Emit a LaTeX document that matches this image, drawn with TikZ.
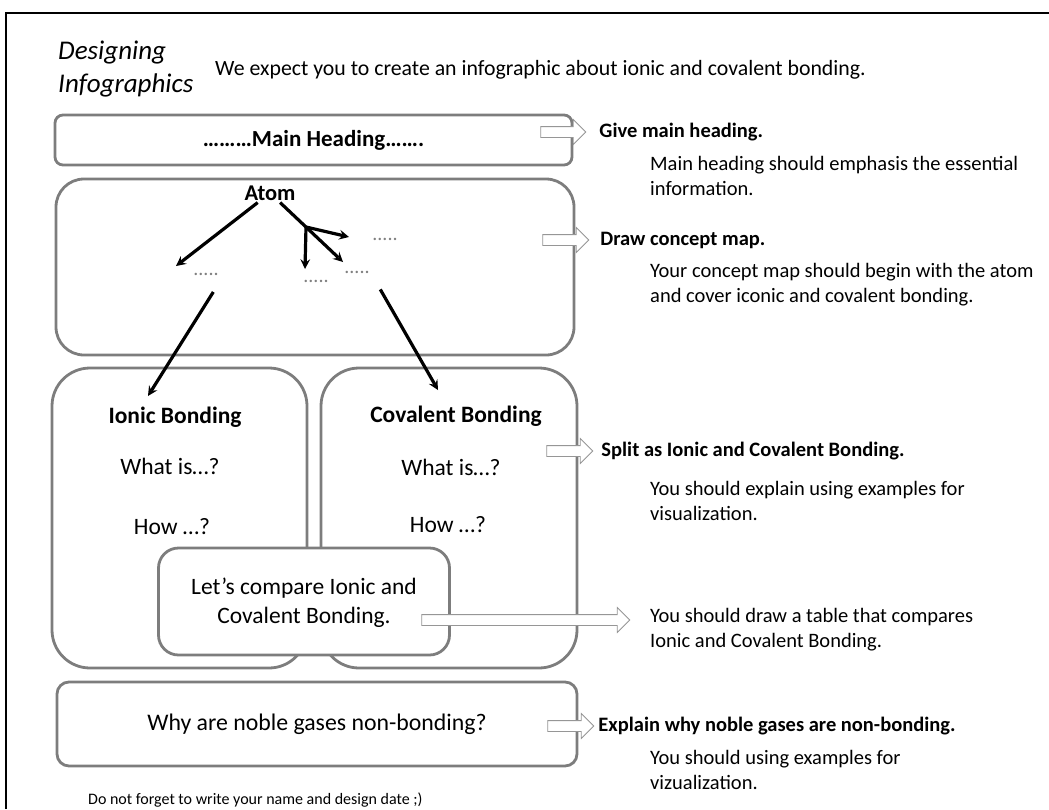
\documentclass[tikz,border=0pt]{standalone}
\usepackage{fontspec}
\setmainfont{Carlito}
\usepackage{xcolor}
\usetikzlibrary{shapes,arrows,positioning,fit,backgrounds}

\definecolor{panelgray}{RGB}{125,125,125}
\definecolor{hollowgray}{RGB}{150,150,150}

\begin{document}
\begin{tikzpicture}[
    x=1pt, y=-1pt,
    panel/.style={
        rectangle,
        draw=panelgray,
        line width=2.8pt,
        fill=white,
        rounded corners=#1,
        inner sep=0pt
    },
    body/.style={font=\fontsize{20.5}{25}\selectfont, inner sep=0pt},
    note/.style={body, anchor=west, align=left},
    hint/.style={font=\fontsize{20.5}{24}\selectfont\bfseries, inner sep=0pt, anchor=west},
    boxtext/.style={font=\fontsize{23.5}{29}\selectfont, inner sep=0pt, align=center},
    boxhead/.style={font=\fontsize{23.5}{28}\selectfont\bfseries, inner sep=0pt},
    pointer/.style={
        single arrow,
        draw=hollowgray,
        fill=white,
        line width=0.8pt,
        minimum height=#1,
        minimum width=22pt,
        single arrow head indent=0pt,
        inner xsep=0pt,
        inner ysep=5pt
    },
    dots/.style={text=gray, font=\fontsize{20}{20}\selectfont, inner sep=3pt},
    arrow/.style={->, >=stealth, line width=3.2pt}
]
\useasboundingbox (0,0) rectangle (1049,809);

% Frame
\draw[line width=2pt] (6,809) -- (6,13) -- (1049,13);

% Title
\node[font=\fontsize{27}{33}\selectfont\itshape, anchor=west, align=left, inner sep=0pt] (title) at (58,69) {Designing\\Infographics};
\node[anchor=west, inner sep=0pt, font=\fontsize{21.8}{26}\selectfont] (intro) at (215,70) {We expect you to create an infographic about ionic and covalent bonding.};

% Main heading
\node[panel=8pt, minimum width=517pt, minimum height=50pt, font=\fontsize{23}{28}\selectfont\bfseries] (heading) at (313.5,140) {………Main Heading…….};

% Concept map
\node[panel=28pt, minimum width=518pt, minimum height=176pt] (mapbox) at (315,267) {};
\node[font=\fontsize{22.5}{26}\selectfont\bfseries, inner sep=2pt] (atom) at (270,193) {Atom};
\node[dots] (dotsA) at (206,274) {.....};
\node[dots] (dotsB) at (385,239) {.....};
\node[dots] (dotsC) at (357,272) {.....};
\node[dots] (dotsD) at (316,281) {.....};
\coordinate (tipA) at (176,266);
\coordinate (tipC) at (343,262);
\coordinate (fork) at (306,227);
\coordinate (tipB) at (349,237);
\coordinate (tipD) at (305,269);
\draw[arrow] (atom) -- (tipA);
\draw[arrow] (atom) -- (tipC);
\draw[arrow] (fork) -- (tipB);
\draw[arrow] (fork) -- (tipD);

% Ionic and covalent
\node[panel=38pt, minimum width=255pt, minimum height=300pt] (ionicbox) at (179.5,518) {};
\node[panel=38pt, minimum width=256pt, minimum height=300pt] (covbox) at (449,518) {};
\node[boxhead] (ionic) at (175,417) {Ionic Bonding};
\node[boxtext] (ionicwhat) at (170,466) {What is…?};
\node[boxtext] (ionichow) at (172,527) {How …?};
\node[boxhead] (covalent) at (456,416) {Covalent Bonding};
\node[boxtext] (covwhat) at (451,467) {What is…?};
\node[boxtext] (covhow) at (448,525) {How …?};
\coordinate (ionictip) at (148,396);
\coordinate (covtip) at (438,390);
\draw[arrow, shorten <=16pt] (dotsA.south east) -- (ionictip);
\draw[arrow, shorten <=15pt] (dotsC.south east) -- (covtip);

% Compare
\node[panel=20pt, minimum width=291pt, minimum height=107pt] (comparebox) at (304,601.5) {};
\node[boxtext] (compare) at (304,603) {Let’s compare Ionic and\\Covalent Bonding.};

% Noble gases
\node[panel=12pt, minimum width=520pt, minimum height=84pt, font=\fontsize{23.8}{28}\selectfont] (noble) at (317,724) {Why are noble gases non-bonding?};
\node[anchor=west, inner sep=0pt, font=\fontsize{16}{18}\selectfont] (footer) at (88,800) {Do not forget to write your name and design date ;)};

% Pointers
\node[pointer=45pt] (arrheading) at (560.5,132) {};
\node[pointer=46pt] (arrmap) at (563,240) {};
\node[pointer=46pt] (arrsplit) at (567,451) {};
\node[pointer=208pt] (arrcompare) at (523,620) {};
\node[pointer=46pt] (arrnoble) at (568,726) {};

% Hints
\node[hint, right=13pt of arrheading] (give) {Give main heading.};
\node[hint, right=11pt of arrmap] (draw) {Draw concept map.};
\node[hint, right=8pt of arrsplit] (split) {Split as Ionic and Covalent Bonding.};
\node[hint, right=4pt of arrnoble] (explain) {Explain why noble gases are non-bonding.};

% Notes
\node[note] (givenote) at (650,176) {Main heading should emphasis the essential\\information.};
\node[note] (mapnote) at (650,285) {Your concept map should begin with the atom\\and cover iconic and covalent bonding.};
\node[note] (splitnote) at (650,501) {You should explain using examples for\\visualization.};
\node[note] (comparenote) at (650,630) {You should draw a table that compares\\Ionic and Covalent Bonding.};
\node[note] (noblenote) at (650,770) {You should using examples for\\vizualization.};

\end{tikzpicture}
\end{document}
